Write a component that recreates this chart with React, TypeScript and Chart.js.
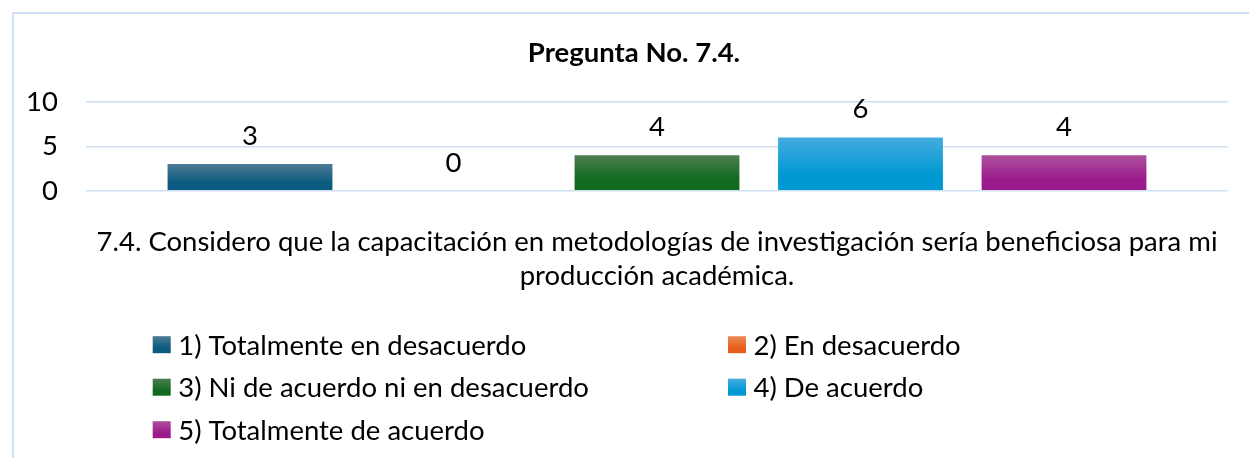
import React, { useEffect, useRef } from 'react';
import { Chart, registerables } from 'chart.js';

Chart.register(...registerables);

// ---------- data ----------
const TITLE = 'Pregunta No. 7.4.';
const CATEGORY_LINES = [
  '7.4. Considero que la capacitación en metodologías de investigación sería beneficiosa para mi',
  'producción académica.',
];
const SERIES_LABELS = [
  '1) Totalmente en desacuerdo',
  '2) En desacuerdo',
  '3) Ni de acuerdo ni en desacuerdo',
  '4) De acuerdo',
  '5) Totalmente de acuerdo',
];
const SERIES_VALUES = [3, 0, 4, 6, 4];
const SERIES_TOP_COLORS = ['#4d7a95', '#f08a58', '#4b7f4f', '#45acdf', '#ae529d'];
const SERIES_BOTTOM_COLORS = ['#0b5a7f', '#e6601c', '#116a1e', '#0098d3', '#9b1a8b'];
const Y_MIN = 0;
const Y_MAX = 10;
const Y_STEP = 5;

// ---------- style ----------
const FONT = 'Lato, "Open Sans", sans-serif';
const FS = 27.5;
const GRID = '#cfdff2';

function makeGradient(c: CanvasRenderingContext2D, top: number, bottom: number, i: number) {
  const g = c.createLinearGradient(0, top, 0, bottom);
  g.addColorStop(0, SERIES_TOP_COLORS[i]);
  g.addColorStop(0.7, SERIES_BOTTOM_COLORS[i]);
  g.addColorStop(1, SERIES_BOTTOM_COLORS[i]);
  return g;
}

const titleShift = {
  id: 'titleShift',
  afterLayout(chart: any) {
    const t = chart.titleBlock;
    if (t) {
      t.left = chart.chartArea.left - 46;
    }
  },
};

const valueLabels = {
  id: 'valueLabels',
  afterDatasetsDraw(chart: any) {
    const c = chart.ctx as CanvasRenderingContext2D;
    c.save();
    c.font = `${FS}px ${FONT}`;
    c.fillStyle = '#000';
    c.textAlign = 'center';
    c.textBaseline = 'middle';
    chart.data.datasets.forEach((ds: any, i: number) => {
      const meta = chart.getDatasetMeta(i);
      meta.data.forEach((el: any, j: number) => {
        c.fillText(String(ds.data[j]), el.x, el.y - 28);
      });
    });
    c.restore();
  },
};

const gridLegend = {
  id: 'gridLegend',
  afterDraw(chart: any) {
    const c = chart.ctx as CanvasRenderingContext2D;
    const area = chart.chartArea;
    const cx = (area.left + area.right) / 2;
    c.save();
    c.font = `${FS}px ${FONT}`;
    c.textAlign = 'left';
    c.textBaseline = 'middle';
    SERIES_LABELS.forEach((label, i) => {
      const col = i % 2;
      const row = Math.floor(i / 2);
      const bx = col === 0 ? cx - 504.3 : cx + 71;
      const y = area.bottom + 154 + row * 42.5;
      c.fillStyle = makeGradient(c, y - 8.5, y + 8.5, i);
      c.fillRect(bx, y - 8.5, 18, 17);
      c.fillStyle = '#000';
      c.fillText(label, bx + 25.5, y + 1);
    });
    c.restore();
  },
};

export default function App() {
  const ref = useRef<HTMLCanvasElement | null>(null);

  useEffect(() => {
    let chart: Chart | null = null;
    let cancelled = false;
    const build = () => {
      if (cancelled || !ref.current) return;
      chart = new Chart(ref.current, {
        type: 'bar',
        data: {
          labels: [CATEGORY_LINES],
          datasets: SERIES_LABELS.map((label, i) => ({
            label,
            data: [SERIES_VALUES[i]],
            backgroundColor: (ctx: any) => {
              const y = ctx.chart.scales?.y;
              if (!y || ctx.type !== 'data') return SERIES_BOTTOM_COLORS[i];
              const top = y.getPixelForValue(ctx.raw as number);
              const base = y.getPixelForValue(0);
              if (!(base - top > 0.5)) return SERIES_BOTTOM_COLORS[i];
              return makeGradient(ctx.chart.ctx, top, base, i);
            },
            borderWidth: 0,
            categoryPercentage: 0.891,
            barPercentage: 0.81,
          })),
        },
        options: {
          animation: false,
          responsive: false,
          devicePixelRatio: 1,
          layout: { padding: { left: 0, right: 21, top: 0, bottom: 167.3 } },
          plugins: {
            legend: { display: false },
            tooltip: { enabled: false },
            title: {
              display: true,
              text: TITLE,
              color: '#000',
              font: { family: FONT, size: FS, weight: 'bold', lineHeight: 1.2 },
              padding: { top: 23, bottom: 32 },
            },
          },
          scales: {
            x: {
              grid: { display: false },
              border: { display: false },
              ticks: {
                color: '#000',
                font: { family: FONT, size: FS, lineHeight: 34 / FS },
                padding: 26,
                maxRotation: 0,
                minRotation: 0,
                autoSkip: false,
              },
              afterFit: (scale: any) => {
                scale.height = 100;
                scale.paddingLeft = 0;
                scale.paddingRight = 0;
              },
            },
            y: {
              min: Y_MIN,
              max: Y_MAX,
              ticks: {
                stepSize: Y_STEP,
                color: '#000',
                font: { family: FONT, size: FS },
                padding: 28,
              },
              grid: { color: GRID, lineWidth: 1.6, drawTicks: false },
              border: { display: false },
              afterFit: (scale: any) => {
                scale.width = 72;
              },
            },
          },
        },
        plugins: [titleShift, valueLabels, gridLegend],
      } as any);
    };
    const fontsReady = (document as any).fonts
      ? Promise.all([
          (document as any).fonts.load(`${FS}px Lato`),
          (document as any).fonts.load(`bold ${FS}px Lato`),
        ]).catch(() => null)
      : Promise.resolve(null);
    fontsReady.then(build);
    return () => {
      cancelled = true;
      if (chart) chart.destroy();
    };
  }, []);

  return (
    <div style={{ position: 'fixed', left: 0, top: 0, width: '100vw', height: '100vh', overflow: 'hidden', background: '#fff' }}>
      <div
        style={{
          position: 'absolute',
          left: 12,
          top: 12,
          width: 1240,
          height: 452,
          border: `2px solid ${GRID}`,
        }}
      >
        <canvas ref={ref} width={1235} height={444} style={{ display: 'block', width: 1235, height: 444 }} />
      </div>
    </div>
  );
}
